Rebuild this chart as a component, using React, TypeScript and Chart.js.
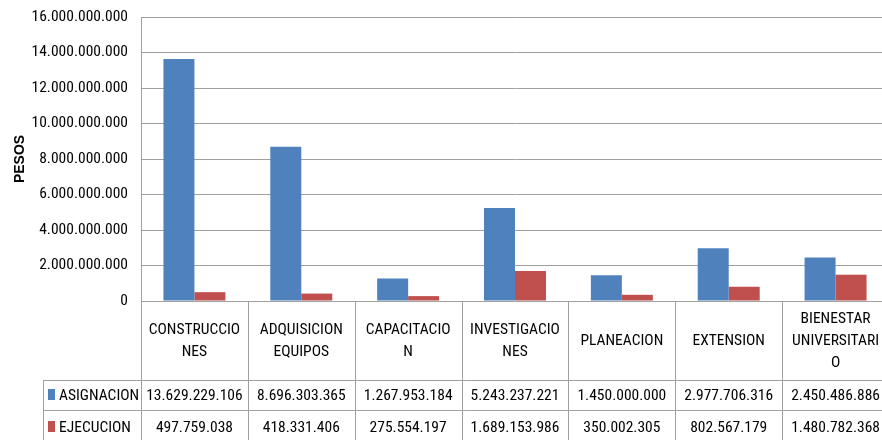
import React, { useEffect, useRef } from 'react';
import { Chart, registerables } from 'chart.js';
Chart.register(...registerables);

const categories = ['CONSTRUCCIONES', 'ADQUISICION EQUIPOS', 'CAPACITACION', 'INVESTIGACIONES', 'PLANEACION', 'EXTENSION', 'BIENESTAR UNIVERSITARIO'];
const categoryLines = [
  ['CONSTRUCCIO', 'NES'],
  ['ADQUISICION', 'EQUIPOS'],
  ['CAPACITACIO', 'N'],
  ['INVESTIGACIO', 'NES'],
  ['PLANEACION'],
  ['EXTENSION'],
  ['BIENESTAR', 'UNIVERSITARI', 'O'],
];
const seriesNames = ['ASIGNACION', 'EJECUCION'];
const asignacion = [13629229106, 8696303365, 1267953184, 5243237221, 1450000000, 2977706316, 2450486886];
const ejecucion = [497759038, 418331406, 275554197, 1689153986, 350002305, 802567179, 1480782368];
const seriesColors = ['#4F81BD', '#C0504D'];
const yMin = 0;
const yMax = 16000000000;
const yStep = 2000000000;
const yTitle = 'PESOS';

const FONT = '"Roboto Condensed", "DejaVu Sans Condensed", sans-serif';
const FSIZE = 15.5;
const fmt = (v: number) => String(Math.round(v)).replace(/\B(?=(\d{3})+(?!\d))/g, '.');

const tablePlugin = {
  id: 'dataTable',
  afterDraw(chart: any) {
    const { ctx, chartArea } = chart;
    const n = categories.length;
    const w = (chartArea.right - chartArea.left) / n;
    const top = chartArea.bottom;
    const headerBottom = top + 79;
    const row1Bottom = headerBottom + 30;
    const bottom = 440;
    const legendLeft = 43;
    const right = chart.width;
    ctx.save();
    ctx.strokeStyle = '#a0a0a0';
    ctx.lineWidth = 1;
    ctx.beginPath();
    for (let i = 0; i <= n; i++) {
      const xp = Math.round(chartArea.left + i * w) + 0.5;
      ctx.moveTo(xp, top);
      ctx.lineTo(xp, bottom);
    }
    ctx.moveTo(legendLeft, headerBottom + 0.5);
    ctx.lineTo(right, headerBottom + 0.5);
    ctx.moveTo(legendLeft, row1Bottom + 0.5);
    ctx.lineTo(right, row1Bottom + 0.5);
    ctx.moveTo(legendLeft + 0.5, headerBottom);
    ctx.lineTo(legendLeft + 0.5, bottom);
    ctx.stroke();

    ctx.fillStyle = '#000';
    ctx.font = `${FSIZE}px ${FONT}`;
    ctx.textAlign = 'center';
    ctx.textBaseline = 'middle';
    const headerCenter = (top + headerBottom) / 2 + 1;
    for (let i = 0; i < n; i++) {
      const cx = chartArea.left + (i + 0.5) * w;
      const lines = categoryLines[i];
      lines.forEach((ln, k) => {
        ctx.fillText(ln, cx, headerCenter + (k - (lines.length - 1) / 2) * 22);
      });
    }
    const rows = [asignacion, ejecucion];
    const rowCenters = [headerBottom + 16, row1Bottom + 18];
    rows.forEach((vals, r) => {
      for (let i = 0; i < n; i++) {
        const cx = chartArea.left + (i + 0.5) * w;
        ctx.fillText(fmt(vals[i]), cx, rowCenters[r]);
      }
      ctx.fillStyle = seriesColors[r];
      ctx.fillRect(48, rowCenters[r] - 7, 7, 11);
      ctx.fillStyle = '#000';
      ctx.textAlign = 'left';
      ctx.fillText(seriesNames[r], 59, rowCenters[r]);
      ctx.textAlign = 'center';
    });
    ctx.restore();
  },
};

export default function App() {
  const ref = useRef<HTMLCanvasElement>(null);
  useEffect(() => {
    if (!ref.current) return;
    const chart = new Chart(ref.current, {
      type: 'bar',
      data: {
        labels: categories,
        datasets: [
          { label: seriesNames[0], data: asignacion, backgroundColor: seriesColors[0], categoryPercentage: 0.58, barPercentage: 1.0 },
          { label: seriesNames[1], data: ejecucion, backgroundColor: seriesColors[1], categoryPercentage: 0.58, barPercentage: 1.0 },
        ],
      },
      options: {
        responsive: false,
        animation: false,
        devicePixelRatio: 1,
        layout: { padding: { top: 17, bottom: 139, left: 0, right: 1 } },
        plugins: { legend: { display: false }, tooltip: { enabled: false } },
        scales: {
          x: { display: false },
          y: {
            min: yMin,
            max: yMax,
            afterFit: (s: any) => { s.width = 141; s.paddingTop = 0; s.paddingBottom = 0; },
            ticks: {
              stepSize: yStep,
              color: '#000',
              padding: 13,
              font: { family: FONT, size: FSIZE },
              callback: (v: any) => fmt(Number(v)),
            },
            grid: { color: '#a0a0a0', lineWidth: 1, drawTicks: false },
            border: { display: true, color: '#a0a0a0' },
            title: {
              display: true,
              text: yTitle,
              color: '#000',
              font: { family: '"Liberation Sans", Arial, sans-serif', size: 14, weight: 'bold' },
              padding: { top: 12, bottom: 0 },
            },
          },
        },
      },
      plugins: [tablePlugin],
    });
    return () => chart.destroy();
  }, []);
  return (
    <div style={{ position: 'fixed', left: 0, top: 0, width: 882, height: 440, overflow: 'hidden', background: '#fff' }}>
      <canvas ref={ref} width={890} height={440} style={{ display: 'block' }} />
    </div>
  );
}
